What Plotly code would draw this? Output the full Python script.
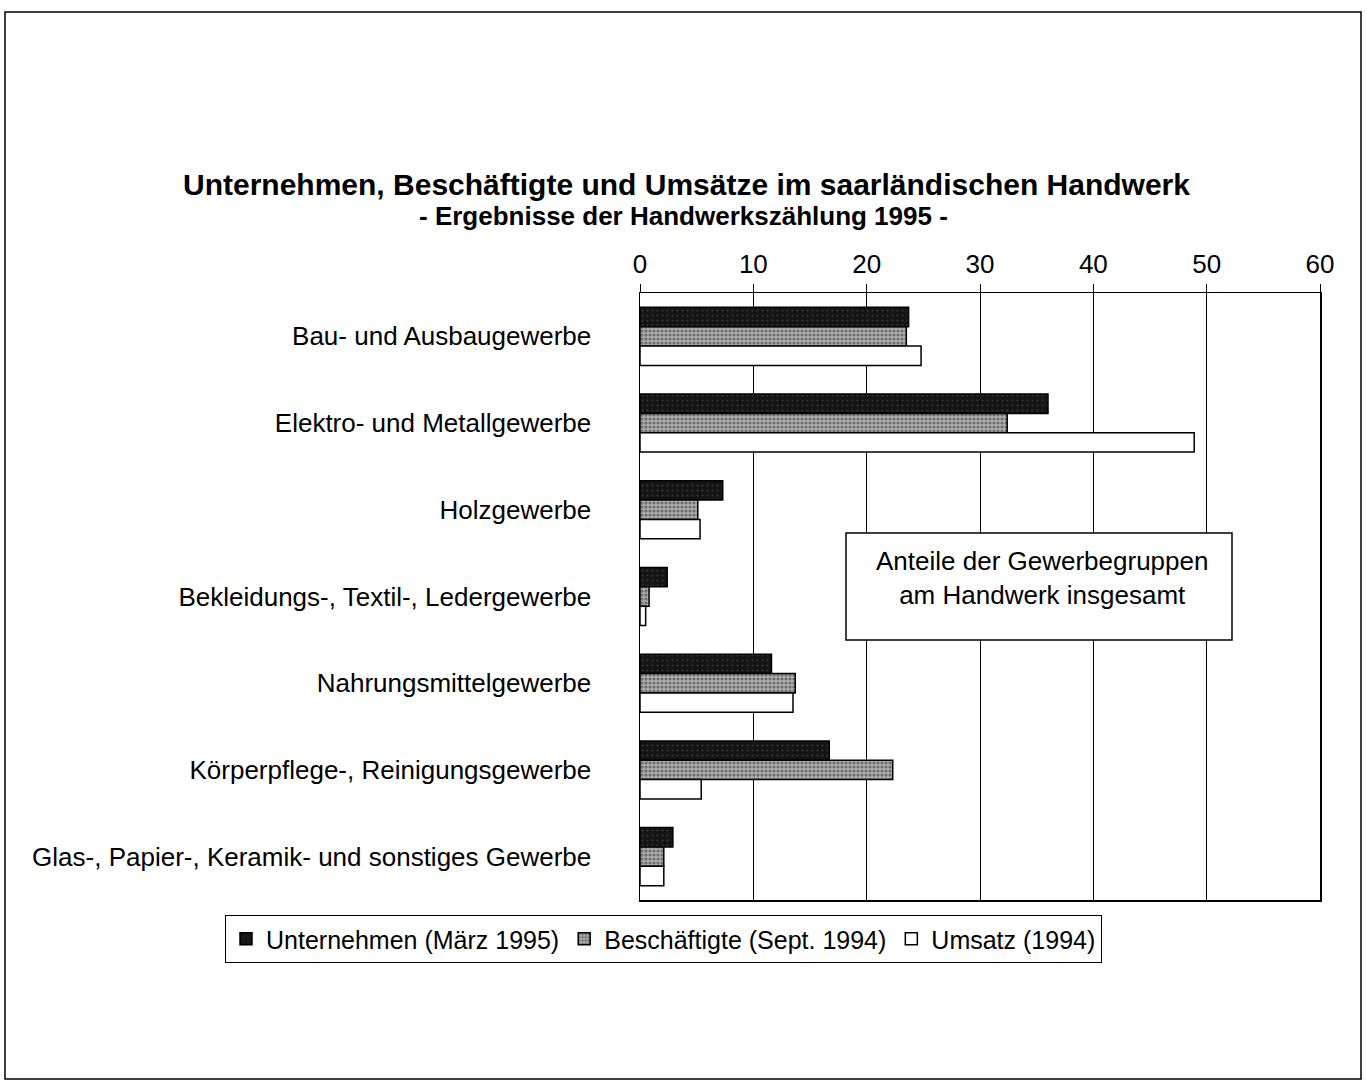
import plotly.graph_objects as go

categories = [
    "Bau- und Ausbaugewerbe",
    "Elektro- und Metallgewerbe",
    "Holzgewerbe",
    "Bekleidungs-, Textil-, Ledergewerbe",
    "Nahrungsmittelgewerbe",
    "Körperpflege-, Reinigungsgewerbe",
    "Glas-, Papier-, Keramik- und sonstiges Gewerbe",
]
unternehmen = [23.7, 36.0, 7.3, 2.4, 11.6, 16.7, 2.9]
beschaeftigte = [23.5, 32.4, 5.1, 0.8, 13.7, 22.3, 2.1]
umsatz = [24.8, 48.9, 5.3, 0.5, 13.5, 5.4, 2.1]

series_names = ["Unternehmen (März 1995)", "Beschäftigte (Sept. 1994)", "Umsatz (1994)"]
x_ticks = [0, 10, 20, 30, 40, 50, 60]

W, H = 1367, 1082
L, R, T, B = 640, 1320, 293, 900
pw, ph = R - L, B - T


def px(x):
    return (x - L) / pw


def py(y):
    return (B - y) / ph


FONT = "Liberation Sans, Arial, sans-serif"

fig = go.Figure()
fig.add_trace(go.Bar(
    y=categories, x=unternehmen, name=series_names[0], orientation="h",
    marker=dict(color="#1c1c1c", line=dict(color="black", width=1.5),
                pattern=dict(shape=".", fgcolor="#555555", bgcolor="#141414", size=5, solidity=0.15)),
))
fig.add_trace(go.Bar(
    y=categories, x=beschaeftigte, name=series_names[1], orientation="h",
    marker=dict(color="#8a8a8a", line=dict(color="black", width=1.5),
                pattern=dict(shape=".", fgcolor="#2a2a2a", bgcolor="#b0b0b0", size=4, solidity=0.5)),
))
fig.add_trace(go.Bar(
    y=categories, x=umsatz, name=series_names[2], orientation="h",
    marker=dict(color="white", line=dict(color="black", width=1.5)),
))

fig.update_layout(
    width=W, height=H,
    margin=dict(l=L, r=W - R, t=T, b=H - B, pad=0),
    paper_bgcolor="white", plot_bgcolor="white",
    font=dict(family=FONT, size=26, color="black"),
    barmode="group", bargap=0.33, bargroupgap=0,
    showlegend=True,
    legend=dict(
        orientation="h", x=px(225), y=py(915), xanchor="left", yanchor="top",
        bordercolor="black", borderwidth=1, bgcolor="white",
        font=dict(family=FONT, size=25, color="black"),
        itemwidth=30, tracegroupgap=0, traceorder="normal",
    ),
)

fig.update_xaxes(
    side="top", range=[0, 60], tickvals=x_ticks, ticktext=[str(v) for v in x_ticks],
    showgrid=True, gridcolor="black", gridwidth=1,
    showline=True, linecolor="black", linewidth=1.5, mirror=True,
    ticks="outside", ticklen=8, tickcolor="black", tickwidth=1,
    tickfont=dict(family=FONT, size=26, color="black"),
    zeroline=False, fixedrange=True,
)
fig.update_yaxes(
    autorange="reversed", showgrid=False,
    showline=True, linecolor="black", linewidth=1.5, mirror=True,
    ticks="", ticklabelstandoff=42,
    tickfont=dict(family=FONT, size=26, color="black"),
)

# Annotation box inside plot
fig.add_shape(type="rect", xref="paper", yref="paper",
              x0=px(846), x1=px(1232), y0=py(640), y1=py(533),
              line=dict(color="black", width=1.5), fillcolor="white", layer="above")
fig.add_annotation(xref="paper", yref="paper", x=px(1042), y=py(578),
                   text="Anteile der Gewerbegruppen<br>am Handwerk insgesamt",
                   showarrow=False, align="center", xanchor="center", yanchor="middle",
                   font=dict(family=FONT, size=26, color="black"))

# Titles
fig.add_annotation(xref="paper", yref="paper", x=px(686), y=py(185),
                   text="<b>Unternehmen, Beschäftigte und Umsätze im saarländischen Handwerk</b>",
                   showarrow=False, xanchor="center", yanchor="middle",
                   font=dict(family=FONT, size=30, color="black"))
fig.add_annotation(xref="paper", yref="paper", x=px(683), y=py(216),
                   text="<b>- Ergebnisse der Handwerkszählung 1995 -</b>",
                   showarrow=False, xanchor="center", yanchor="middle",
                   font=dict(family=FONT, size=26, color="black"))

# Outer frame
fig.add_shape(type="rect", xref="paper", yref="paper",
              x0=px(5), x1=px(1361), y0=py(1079), y1=py(12),
              line=dict(color="black", width=1.5), fillcolor="rgba(0,0,0,0)", layer="above")

fig.write_html(
    "out.html",
    config={"displayModeBar": False, "staticPlot": True},
    post_script="document.body.style.margin='0';document.body.style.overflow='hidden';"
                "document.documentElement.style.overflow='hidden';",
)
